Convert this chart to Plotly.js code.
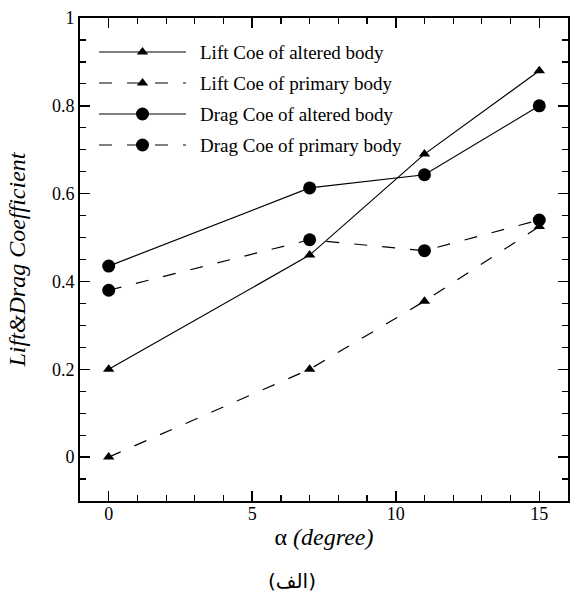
<!DOCTYPE html>
<html><head><meta charset="utf-8">
<script src="https://cdn.plot.ly/plotly-3.0.1.min.js"></script>
<style>body{margin:0;background:#fff}#c{width:570px;height:592px}</style>
</head><body><div id="c"></div>
<script>
const alpha = [0, 7, 11, 15];
const liftAltered = [0.2, 0.46, 0.69, 0.88];
const liftPrimary = [0.0, 0.2, 0.355, 0.525];
const dragAltered = [0.435, 0.613, 0.643, 0.80];
const dragPrimary = [0.38, 0.495, 0.47, 0.54];
const names = ["Lift Coe of altered body","Lift Coe of primary body","Drag Coe of altered body","Drag Coe of primary body"];

const serif = '"Liberation Serif", "Times New Roman", serif';
function tr(y, name, dash, sym, size){
  return {x: alpha, y: y, name: name, type:'scatter', mode:'lines+markers',
    line:{color:'#000', width:1.2, dash: dash},
    marker:{symbol: sym, size: size, color:'#000'}};
}
const data = [
  tr(liftAltered, names[0], 'solid', 'triangle-up', 10),
  tr(liftPrimary, names[1], '13px,15px', 'triangle-up', 10),
  tr(dragAltered, names[2], 'solid', 'circle', 13),
  tr(dragPrimary, names[3], '13px,15px', 'circle', 13)
];
const axisCommon = {showgrid:false, zeroline:false, showline:true, linecolor:'#000', linewidth:2,
  mirror:'allticks', ticks:'inside', ticklen:10, tickwidth:1.5, tickcolor:'#000',
  tickfont:{family:serif, size:18, color:'#000'}};
const layout = {
  width:570, height:592,
  margin:{l:80, r:2, t:18, b:91},
  paper_bgcolor:'#fff', plot_bgcolor:'#fff',
  showlegend:true,
  legend:{x:0.02, y:0.96, xanchor:'left', yanchor:'top', bgcolor:'rgba(0,0,0,0)',
    font:{family:serif, size:19, color:'#000'}, itemwidth:30, tracegroupgap:0},
  xaxis: Object.assign({}, axisCommon, {range:[-1,16], tickvals:[0,5,10,15], ticklabelstandoff:-5,
    minor:{ticks:'inside', dtick:1, tick0:0, ticklen:6, tickwidth:1.2, tickcolor:'#000'},
    title:{text:'α <i>(degree)</i>', font:{family:serif, size:24, color:'#000'}, standoff:6}}),
  yaxis: Object.assign({}, axisCommon, {range:[-0.1,1], tickvals:[0,0.2,0.4,0.6,0.8,1],
    minor:{ticks:'inside', dtick:0.05, tick0:0, ticklen:6, tickwidth:1.2, tickcolor:'#000'},
    title:{text:'<i>Lift&Drag Coefficient</i>', font:{family:serif, size:24, color:'#000'}, standoff:20}}),
  annotations:[{text:'(الف)', xref:'paper', yref:'paper', x:0.434, y:-0.165, yanchor:'middle', showarrow:false,
    font:{family:'DejaVu Sans, Noto Sans, sans-serif', size:20, color:'#000'}}]
};
Plotly.newPlot('c', data, layout, {displayModeBar:false, staticPlot:true}).then(function(gd){
  // stretch legend sample lines to match the original figure's legend style
  const traces = gd.querySelectorAll('.legend .traces');
  const sb = gd.querySelector('.legend .scrollbox');
  if (sb) sb.removeAttribute('clip-path');
  const root = gd.querySelector('.main-svg').getBoundingClientRect();
  traces.forEach(function(t, i){
    t.querySelectorAll('.legendlines path').forEach(function(p){ p.setAttribute('d','M5,0h87'); });
    t.querySelectorAll('.legendsymbols path, .legendpoints path.scatterpts').forEach(function(p){
      p.setAttribute('transform','translate(48.5,0)'); });
    const txt = t.querySelector('text.legendtext');
    if (txt) txt.setAttribute('x', 106);
    const m = /translate\(([-\d.]+)[ ,]+([-\d.]+)\)/.exec(t.getAttribute('transform') || 'translate(0,0)');
    const lp = t.querySelector('.legendlines path');
    const r = lp.getBoundingClientRect();
    const dx = 99 - (r.left - root.left);
    const dy = (52 + 31*i) - ((r.top + r.bottom)/2 - root.top);
    t.setAttribute('transform','translate(' + (parseFloat(m[1])+dx) + ',' + (parseFloat(m[2])+dy) + ')');
  });
});
</script></body></html>
